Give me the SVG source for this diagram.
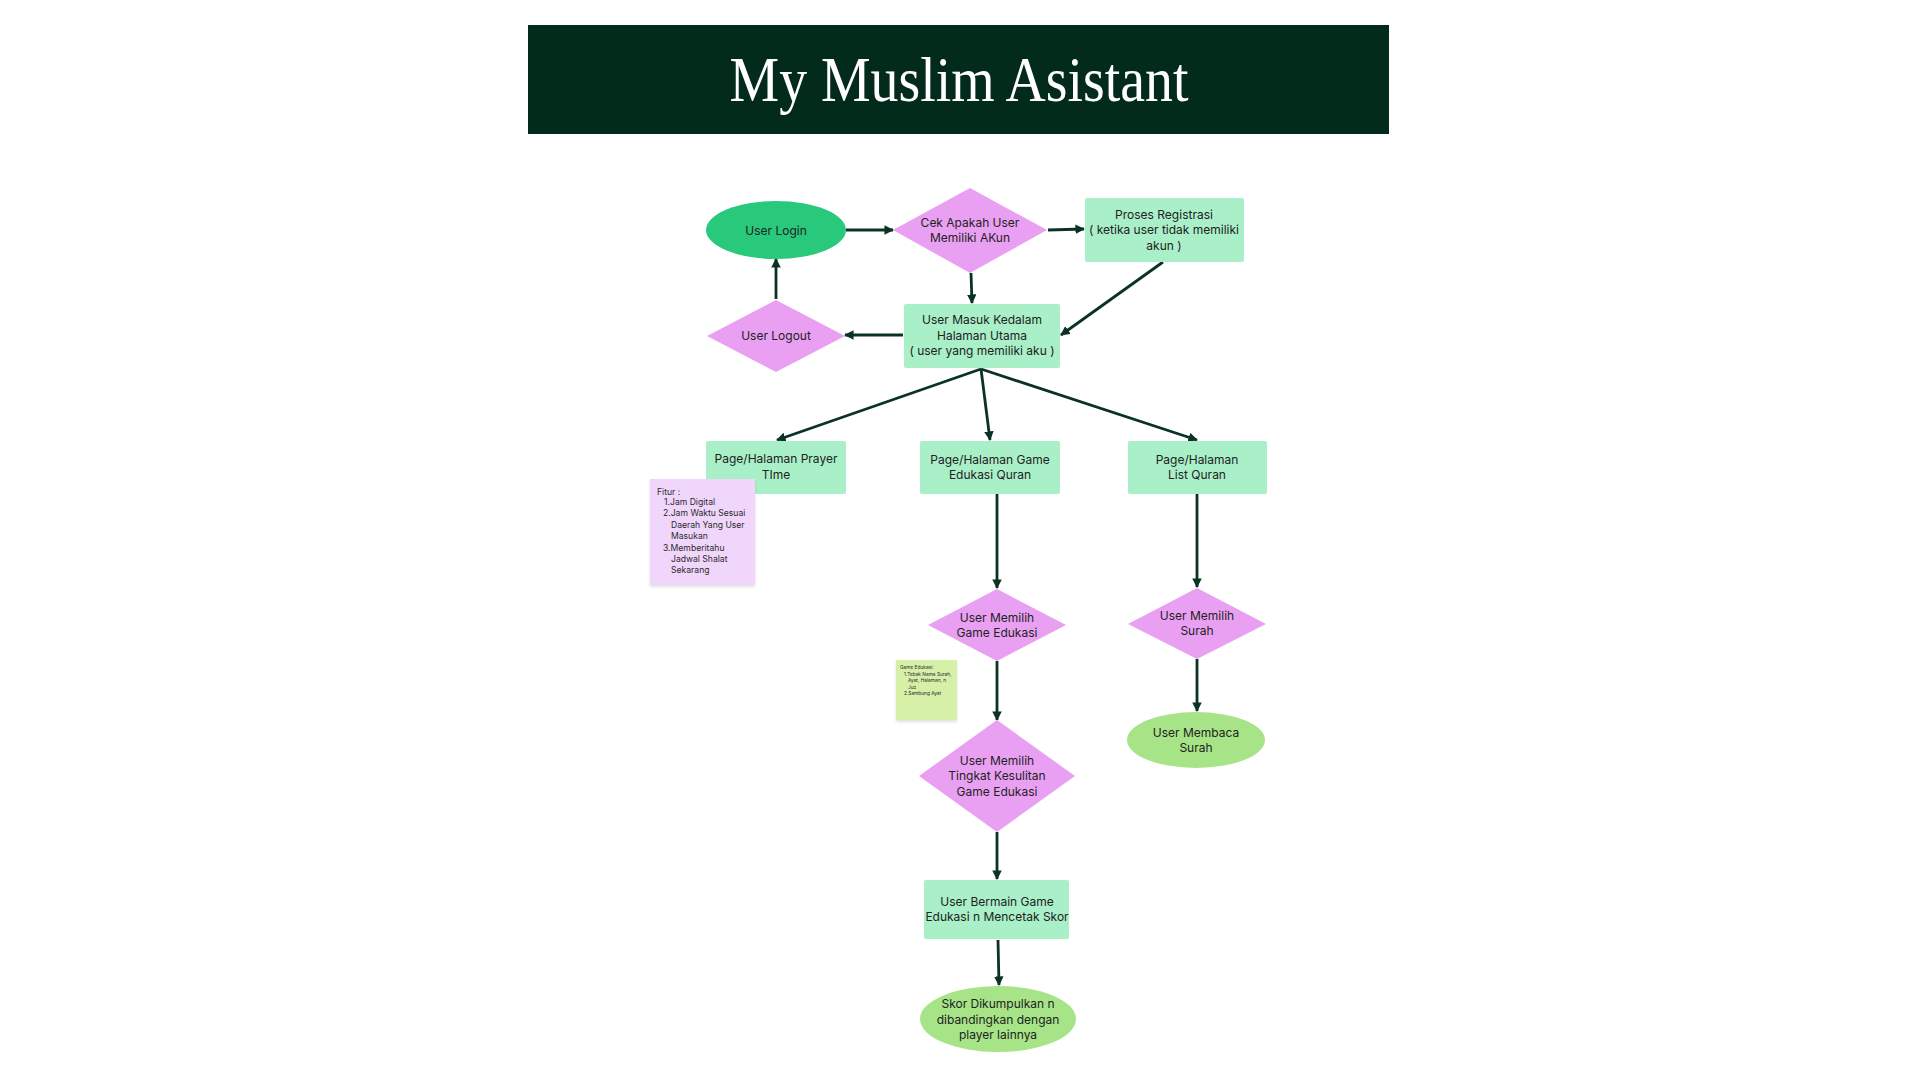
<svg xmlns="http://www.w3.org/2000/svg" width="1920" height="1080" viewBox="0 0 1920 1080">
<defs>
<marker id="ah" viewBox="0 0 10 10" refX="9" refY="5" markerWidth="3.4" markerHeight="3.4" orient="auto" markerUnits="strokeWidth">
<path d="M0,0 L10,5 L0,10 z" fill="#0b3324"/>
</marker>
<filter id="sh" x="-10%" y="-10%" width="120%" height="120%">
<feDropShadow dx="0" dy="2" stdDeviation="1.5" flood-color="#000" flood-opacity="0.12"/>
</filter>
</defs>
<style>
.t{font-family:Inter,"Liberation Sans",sans-serif;font-size:12px;fill:#222222;text-anchor:middle}
.n{font-family:Inter,"Liberation Sans",sans-serif;font-size:8.6px;fill:#2a2a2a}
.s{font-family:Inter,"Liberation Sans",sans-serif;font-size:4.8px;fill:#2a2a2a}
.rect{fill:#a9efc8}
.dia{fill:#eaa0f2}
.c{fill:none;stroke:#0b3324;stroke-width:2.8;marker-end:url(#ah)}
</style>
<rect width="1920" height="1080" fill="#ffffff"/>
<g id="header">
<rect x="528" y="25" width="861" height="109" fill="#032b1c"/>
<text x="959" y="101" font-family="'Liberation Serif','DejaVu Serif',serif" font-size="63" fill="#ffffff" text-anchor="middle" textLength="459" lengthAdjust="spacingAndGlyphs">My Muslim Asistant</text>
</g>
<g id="connectors">
<line class="c" x1="846" y1="230" x2="893" y2="230"/>
<line class="c" x1="1048" y1="230" x2="1084" y2="229"/>
<line class="c" x1="971" y1="273" x2="972" y2="303"/>
<line class="c" x1="1163" y1="262" x2="1061" y2="335"/>
<line class="c" x1="903" y1="335" x2="845" y2="335"/>
<line class="c" x1="776" y1="299" x2="776" y2="259"/>
<line class="c" x1="981" y1="369" x2="777" y2="440"/>
<line class="c" x1="981" y1="369" x2="990" y2="440"/>
<line class="c" x1="981" y1="369" x2="1197" y2="440"/>
<line class="c" x1="997" y1="494" x2="997" y2="588"/>
<line class="c" x1="1197" y1="494" x2="1197" y2="587"/>
<line class="c" x1="997" y1="661" x2="997" y2="720"/>
<line class="c" x1="997" y1="832" x2="997" y2="879"/>
<line class="c" x1="998" y1="940" x2="999" y2="985"/>
<line class="c" x1="1197" y1="659" x2="1197" y2="711"/>
</g>
<g id="user-login">
<ellipse cx="776" cy="230" rx="70" ry="29" fill="#29c97b"/>
<text class="t" x="776" y="235">User Login</text>
</g>
<g id="cek-akun">
<polygon class="dia" points="970,188 1047,230 970,273 893,230"/>
<text class="t" x="970" y="227">Cek Apakah User</text>
<text class="t" x="970" y="242">Memiliki AKun</text>
</g>
<g id="proses-registrasi">
<rect class="rect" x="1085" y="198" width="159" height="64" rx="2"/>
<text class="t" x="1164" y="219">Proses Registrasi</text>
<text class="t" x="1164" y="234">( ketika user tidak memiliki</text>
<text class="t" x="1164" y="250">akun )</text>
</g>
<g id="user-logout">
<polygon class="dia" points="776,300 845,336 776,372 707,336"/>
<text class="t" x="776" y="340">User Logout</text>
</g>
<g id="halaman-utama">
<rect class="rect" x="904" y="304" width="156" height="64" rx="2"/>
<text class="t" x="982" y="324">User Masuk Kedalam</text>
<text class="t" x="982" y="340">Halaman Utama</text>
<text class="t" x="982" y="355">( user yang memiliki aku )</text>
</g>
<g id="prayer-time">
<rect class="rect" x="706" y="441" width="140" height="53" rx="2"/>
<text class="t" x="776" y="463">Page/Halaman Prayer</text>
<text class="t" x="776" y="479">TIme</text>
</g>
<g id="game-edukasi-quran">
<rect class="rect" x="920" y="441" width="140" height="53" rx="2"/>
<text class="t" x="990" y="464">Page/Halaman Game</text>
<text class="t" x="990" y="479">Edukasi Quran</text>
</g>
<g id="list-quran">
<rect class="rect" x="1128" y="441" width="139" height="53" rx="2"/>
<text class="t" x="1197" y="464">Page/Halaman</text>
<text class="t" x="1197" y="479">List Quran</text>
</g>
<g id="fitur-note">
<rect x="650" y="479" width="105" height="106" fill="#f1d6fb" filter="url(#sh)"/>
<text class="n" x="657" y="495">Fitur :</text>
<text class="n" x="664" y="505">1.Jam Digital</text>
<text class="n" x="663" y="516">2.Jam Waktu Sesuai</text>
<text class="n" x="671" y="528">Daerah Yang User</text>
<text class="n" x="671" y="539">Masukan</text>
<text class="n" x="663" y="551">3.Memberitahu</text>
<text class="n" x="671" y="562">Jadwal Shalat</text>
<text class="n" x="671" y="573">Sekarang</text>
</g>
<g id="memilih-game">
<polygon class="dia" points="997,589 1066,625 997,661 928,625"/>
<text class="t" x="997" y="622">User Memilih</text>
<text class="t" x="997" y="637">Game Edukasi</text>
</g>
<g id="memilih-surah">
<polygon class="dia" points="1197,588 1266,624 1197,659 1128,624"/>
<text class="t" x="1197" y="620">User Memilih</text>
<text class="t" x="1197" y="635">Surah</text>
</g>
<g id="game-note">
<rect x="896" y="660" width="61" height="60" fill="#d6f0a8" filter="url(#sh)"/>
<text class="s" x="900" y="669">Game Edukasi:</text>
<text class="s" x="904" y="676">1.Tebak Nama Surah,</text>
<text class="s" x="908" y="682">Ayat, Halaman, n</text>
<text class="s" x="908" y="689">Juz</text>
<text class="s" x="904" y="695">2.Sambung Ayat</text>
</g>
<g id="tingkat-kesulitan">
<polygon class="dia" points="997,720 1075,776 997,832 919,776"/>
<text class="t" x="997" y="765">User Memilih</text>
<text class="t" x="997" y="780">Tingkat Kesulitan</text>
<text class="t" x="997" y="796">Game Edukasi</text>
</g>
<g id="bermain-game">
<rect class="rect" x="924" y="880" width="145" height="59" rx="2"/>
<text class="t" x="997" y="906">User Bermain Game</text>
<text class="t" x="997" y="921">Edukasi n Mencetak Skor</text>
</g>
<g id="skor">
<ellipse cx="998" cy="1019" rx="78" ry="33" fill="#a6e487"/>
<text class="t" x="998" y="1008">Skor Dikumpulkan n</text>
<text class="t" x="998" y="1024">dibandingkan dengan</text>
<text class="t" x="998" y="1039">player lainnya</text>
</g>
<g id="membaca-surah">
<ellipse cx="1196" cy="740" rx="69" ry="28" fill="#a6e487"/>
<text class="t" x="1196" y="737">User Membaca</text>
<text class="t" x="1196" y="752">Surah</text>
</g>
</svg>
